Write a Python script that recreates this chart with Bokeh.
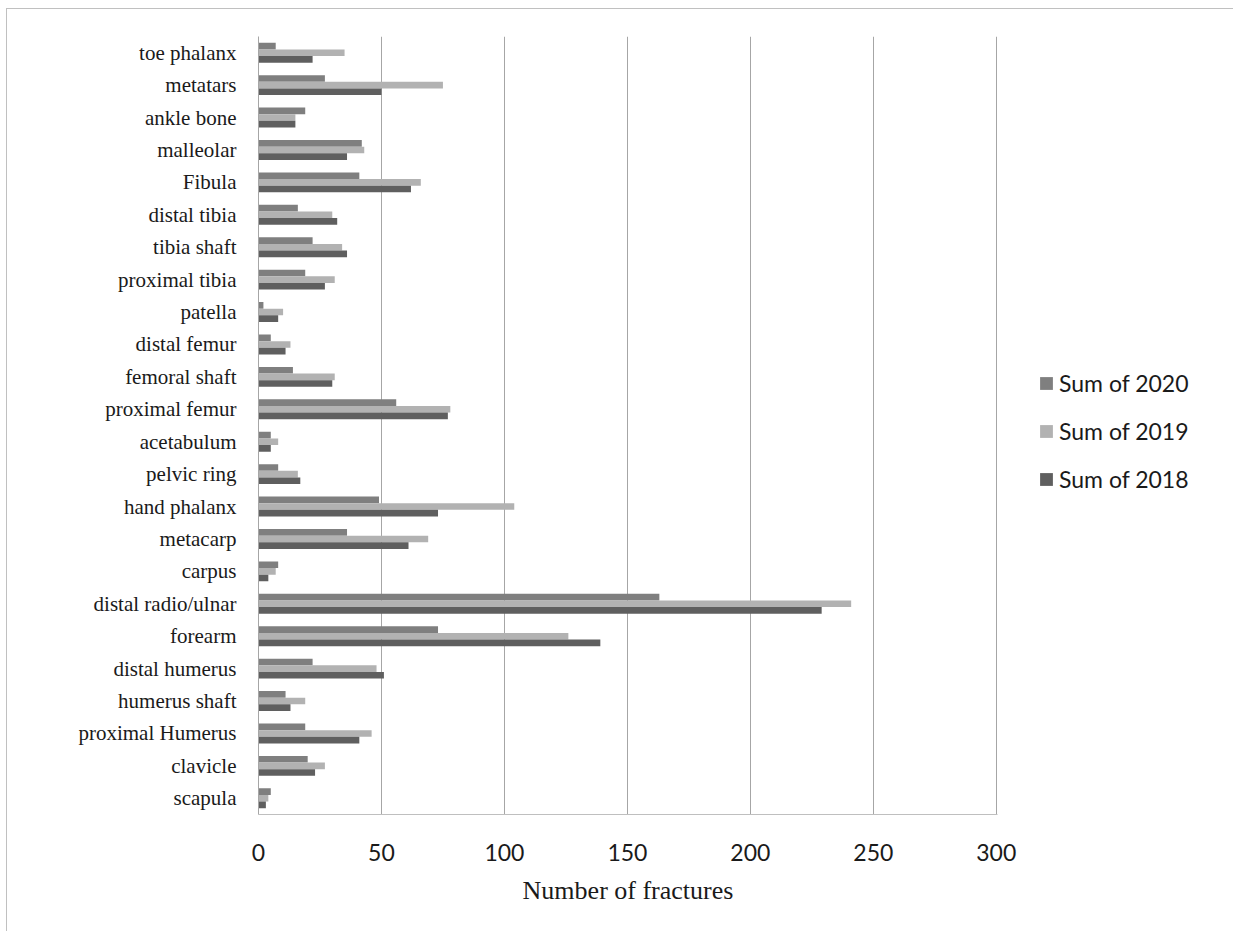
from bokeh.plotting import figure
from bokeh.layouts import row
from bokeh.models import ColumnDataSource, FactorRange, Range1d, FixedTicker, Legend, LegendItem
from bokeh.transform import dodge
from bokeh.embed import file_html
from bokeh.resources import INLINE

categories = ["scapula", "clavicle", "proximal Humerus", "humerus shaft", "distal humerus",
              "forearm", "distal radio/ulnar", "carpus", "metacarp", "hand phalanx",
              "pelvic ring", "acetabulum", "proximal femur", "femoral shaft", "distal femur",
              "patella", "proximal tibia", "tibia shaft", "distal tibia", "Fibula",
              "malleolar", "ankle bone", "metatars", "toe phalanx"]
sum_2020 = [5, 20, 19, 11, 22, 73, 163, 8, 36, 49, 8, 5, 56, 14, 5, 2, 19, 22, 16, 41, 42, 19, 27, 7]
sum_2019 = [4, 27, 46, 19, 48, 126, 241, 7, 69, 104, 16, 8, 78, 31, 13, 10, 31, 34, 30, 66, 43, 15, 75, 35]
sum_2018 = [3, 23, 41, 13, 51, 139, 229, 4, 61, 73, 17, 5, 77, 30, 11, 8, 27, 36, 32, 62, 36, 15, 50, 22]
series_labels = ["Sum of 2020", "Sum of 2019", "Sum of 2018"]
series_colors = ["#7f7f7f", "#b2b2b2", "#5f5f5f"]
x_ticks = [0, 50, 100, 150, 200, 250, 300]

source = ColumnDataSource(dict(cat=categories, y2020=sum_2020, y2019=sum_2019, y2018=sum_2018))

p = figure(frame_width=739, frame_height=778, output_backend="svg", toolbar_location=None,
           y_range=FactorRange(*categories), x_range=Range1d(0, 300.5),
           min_border_left=251, min_border_right=20, min_border_top=27, min_border_bottom=117)
p.outline_line_color = None
p.background_fill_color = "white"
p.border_fill_color = "white"

bh = 0.205
offsets = [bh, 0, -bh]
cols = ["y2020", "y2019", "y2018"]
for col, off, color in zip(cols, offsets, series_colors):
    p.hbar(y=dodge("cat", off, range=p.y_range), right=col, left=0, height=bh,
           source=source, fill_color=color, line_color=None)

p.ygrid.grid_line_color = None
p.xgrid.grid_line_color = "#a6a6a6"
p.xgrid.grid_line_width = 1
p.xgrid.ticker = FixedTicker(ticks=x_ticks)

p.xaxis.ticker = FixedTicker(ticks=x_ticks)
p.xaxis.axis_line_color = "#bfbfbf"
p.xaxis.major_tick_line_color = None
p.xaxis.minor_tick_line_color = None
p.xaxis.major_label_text_font = "Lato"
p.xaxis.major_label_text_font_size = "23px"
p.xaxis.major_label_text_color = "#1a1a1a"
p.xaxis.major_label_standoff = 23
p.xaxis.axis_label = "Number of fractures"
p.xaxis.axis_label_text_font = "Liberation Serif"
p.xaxis.axis_label_text_font_size = "26px"
p.xaxis.axis_label_text_font_style = "normal"
p.xaxis.axis_label_text_color = "#1a1a1a"
p.xaxis.axis_label_standoff = 12

p.yaxis.axis_line_color = "#a6a6a6"
p.yaxis.major_tick_line_color = None
p.yaxis.minor_tick_line_color = None
p.yaxis.major_label_text_font = "Liberation Serif"
p.yaxis.major_label_text_font_size = "21px"
p.yaxis.major_label_text_color = "#1a1a1a"
p.yaxis.major_label_standoff = 16

# legend panel as a separate, axis-less figure (zero-width proxy bars only feed the legend swatches)
lf = figure(width=216, height=922, output_backend="svg", toolbar_location=None,
            x_range=Range1d(0, 1), y_range=Range1d(0, 1),
            x_axis_type=None, y_axis_type=None,
            min_border_left=0, min_border_right=0, min_border_top=0, min_border_bottom=0)
lf.outline_line_color = None
lf.xgrid.grid_line_color = None
lf.ygrid.grid_line_color = None
lf.border_fill_color = "white"
items = []
proxy = ColumnDataSource(dict(y=[0], right=[0]))
for lab, color in zip(series_labels, series_colors):
    r = lf.hbar(y="y", right="right", left=0, height=0.0, source=proxy,
                fill_color=color, line_color=None)
    items.append(LegendItem(label=lab, renderers=[r]))

legend = Legend(items=items, location=(21, 321), orientation="vertical")
legend.border_line_color = None
legend.background_fill_alpha = 0
legend.label_text_font = "Lato"
legend.label_text_font_size = "23px"
legend.label_text_color = "#1a1a1a"
legend.glyph_width = 16
legend.glyph_height = 16
legend.label_height = 24
legend.spacing = 20
legend.label_standoff = 5
legend.margin = 0
legend.padding = 0
lf.add_layout(legend, "center")

layout = row(p, lf, spacing=0,
             styles={"margin-left": "6px", "margin-top": "8px",
                     "border-left": "1px solid #c0c0c0", "border-top": "1px solid #c0c0c0"})

open("out.html", "w").write(file_html(layout, INLINE))
